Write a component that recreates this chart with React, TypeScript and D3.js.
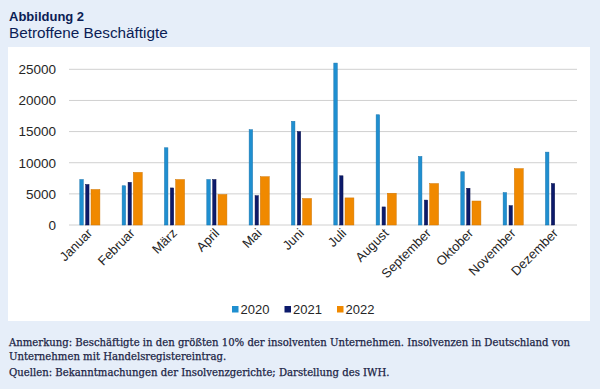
import React from "react";
import * as d3 from "d3";

const months = ["Januar","Februar","März","April","Mai","Juni","Juli","August","September","Oktober","November","Dezember"];
const years = ["2020","2021","2022"];
const values2020 = [7300, 6300, 12400, 7300, 15300, 16650, 26000, 17700, 11000, 8550, 5200, 11700];
const values2021 = [6500, 6850, 5950, 7300, 4700, 15000, 7900, 2900, 4000, 5900, 3100, 6650];
const values2022: (number | null)[] = [5700, 8450, 7300, 4900, 7750, 4250, 4350, 5100, 6650, 3850, 9050, null];
const yTicks = [0, 5000, 10000, 15000, 20000, 25000];
const title = "Abbildung 2";
const subtitle = "Betroffene Beschäftigte";
const note1 = "Anmerkung: Beschäftigte in den größten 10% der insolventen Unternehmen. Insolvenzen in Deutschland von";
const note2 = "Unternehmen mit Handelsregistereintrag.";
const note3 = "Quellen: Bekanntmachungen der Insolvenzgerichte; Darstellung des IWH.";

const W = 600, H = 389;
const colors: Record<string, string> = { "2020": "#1f8fd0", "2021": "#0c1a6b", "2022": "#f08900" };
const strokes: Record<string, string> = { "2020": "#1673ad", "2021": "#07104a", "2022": "#d07500" };
// bar offset & width as fraction of month band
const barGeom: Record<string, [number, number]> = { "2020": [0.255, 0.082], "2021": [0.395, 0.078], "2022": [0.52, 0.21] };

export default function App() {
  const x = d3.scaleBand<string>().domain(months).range([69, 577]).padding(0);
  const y = d3.scaleLinear().domain([0, 25000]).range([225, 69.3]);
  const bw = x.bandwidth();
  const series: Record<string, (number | null)[]> = { "2020": values2020, "2021": values2021, "2022": values2022 };
  const axisFont = "'Liberation Sans', Arial, sans-serif";
  const noteFont = "'DejaVu Serif', serif";
  const legendX: Record<string, number> = { "2020": 232, "2021": 284.5, "2022": 337 };
  return (
    <svg width={W} height={H} style={{ position: "absolute", left: 0, top: 0, display: "block" }}>
      <rect x={0} y={0} width={W} height={H} fill="#e6eef9" />
      <rect x={8} y={47} width={582} height={274} fill="#ffffff" />
      <text x={9} y={21} fontFamily={axisFont} fontWeight="bold" fontSize={13} fill="#0b1d55">{title}</text>
      <text x={9} y={38} fontFamily={axisFont} fontSize={15.3} fill="#0b1d55">{subtitle}</text>
      {yTicks.map((t) => (
        <g key={t}>
          <line x1={69} x2={577} y1={y(t)} y2={y(t)} stroke="#d0d0d0" strokeWidth={1} />
          <text x={56} y={y(t)} dy="0.36em" textAnchor="end" fontFamily={axisFont} fontSize={13.5} fill="#262626">{t}</text>
        </g>
      ))}
      {years.map((yr) =>
        months.map((m, i) => {
          const v = series[yr][i];
          if (v == null) return null;
          const [off, w] = barGeom[yr];
          const x0 = (x(m) as number) + off * bw;
          return (
            <rect key={yr + m} x={x0} y={y(v)} width={w * bw} height={y(0) - y(v)} fill={colors[yr]} stroke={strokes[yr]} strokeWidth={0.5} />
          );
        })
      )}
      {months.map((m) => {
        const cx = (x(m) as number) + bw / 2 + 3;
        const cy = 234;
        return (
          <text key={m} x={cx} y={cy} transform={`rotate(-45 ${cx} ${cy})`} textAnchor="end" fontFamily={axisFont} fontSize={13} fill="#262626">{m}</text>
        );
      })}
      {years.map((yr) => (
        <g key={yr}>
          <rect x={legendX[yr]} y={306} width={6.5} height={6.5} fill={colors[yr]} />
          <text x={legendX[yr] + 8.5} y={313.5} fontFamily={axisFont} fontSize={13} fill="#262626">{yr}</text>
        </g>
      ))}
      <g fontFamily={noteFont} fontSize={10.1} fill="#1b1f45" stroke="#1b1f45" strokeWidth={0.25}>
        <text x={9} y={346}>{note1}</text>
        <text x={9} y={360}>{note2}</text>
        <text x={9} y={376}>{note3}</text>
      </g>
    </svg>
  );
}
